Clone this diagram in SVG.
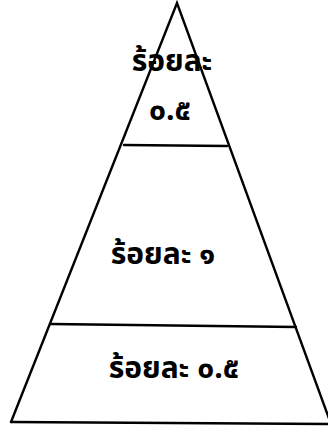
<svg xmlns="http://www.w3.org/2000/svg" width="328" height="427" viewBox="0 0 328 427">
<style>
.l{stroke:#000;stroke-width:2.4;fill:none;stroke-linecap:round;stroke-linejoin:miter}
.t{font-family:"Noto Sans Thai","Noto Sans","DejaVu Sans",sans-serif;font-weight:bold;font-size:30px;fill:#000;text-anchor:middle}
</style>
<rect width="328" height="427" fill="#fff"/>
<g id="connectors">
<path class="l" d="M11,422 L177,3 L331,424"/>
<line class="l" x1="11" y1="422" x2="328" y2="424"/>
<line class="l" x1="124" y1="145" x2="227" y2="146"/>
<line class="l" x1="51" y1="324" x2="296" y2="327"/>
</g>
<g id="top">
<text class="t" x="172" y="71">ร้อยละ</text>
<text class="t" x="170" y="120">๐.๕</text>
</g>
<g id="middle">
<text class="t" x="163" y="264">ร้อยละ ๑</text>
</g>
<g id="bottom">
<text class="t" x="174" y="378">ร้อยละ ๐.๕</text>
</g>
</svg>
